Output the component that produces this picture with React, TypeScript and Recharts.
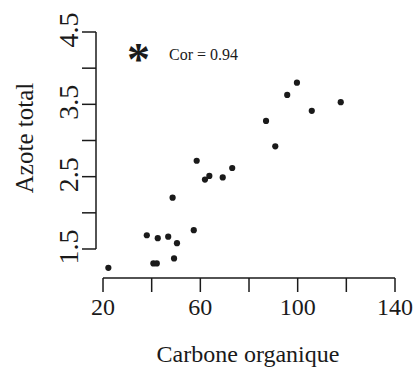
import React from "react";
import { ScatterChart, Scatter, XAxis, YAxis, ReferenceLine } from "recharts";

const carbone = [22.2, 38.0, 40.7, 42.1, 42.5, 46.8, 48.6, 49.2, 50.4, 57.3, 58.5, 61.9, 63.7, 69.2, 73.1, 87.0, 90.8, 95.7, 99.7, 105.8, 117.7];
const azote = [1.24, 1.69, 1.3, 1.3, 1.65, 1.67, 2.21, 1.37, 1.58, 1.76, 2.72, 2.46, 2.51, 2.49, 2.62, 3.27, 2.92, 3.63, 3.8, 3.41, 3.53];
const xTicks = [20, 40, 60, 80, 100, 120, 140];
const xLabelled = [20, 60, 100, 140];
const yTicks = [1.5, 2, 2.5, 3, 3.5, 4, 4.5];
const yLabelled = [1.5, 2.5, 3.5, 4.5];
const xDomain = [17.12, 140];
const yDomain = [1.099, 4.5];
const corText = "Cor = 0.94";

const data = carbone.map((c, i) => ({ x: c, y: azote[i] }));

const FONT = "'Liberation Serif', 'Times New Roman', serif";
const INK = "#1a1a1a";

const XTick = (props: any) => {
  const { x, y, payload } = props;
  if (!xLabelled.includes(payload.value)) return <g />;
  return (
    <text x={x} y={y} dy={21} textAnchor="middle" fontFamily={FONT} fontSize={24} fill={INK}>
      {payload.value}
    </text>
  );
};

const YTick = (props: any) => {
  const { x, y, payload } = props;
  if (!yLabelled.includes(payload.value)) return <g />;
  const bx = x - 2;
  const cy = y - 2;
  return (
    <text
      x={bx}
      y={cy}
      textAnchor="middle"
      fontFamily={FONT}
      fontSize={28}
      fill={INK}
      transform={`rotate(-90, ${bx}, ${cy})`}
    >
      {payload.value.toFixed(1)}
    </text>
  );
};

const Dot = (props: any) => <circle cx={props.cx} cy={props.cy} r={3.1} fill={INK} />;

export default function App() {
  return (
    <div style={{ position: "absolute", left: 0, top: 0, width: 413, height: 369, background: "#fff" }}>
      <ScatterChart width={413} height={369} margin={{ top: 32, right: 18, left: 0, bottom: 0 }}>
        <XAxis
          type="number"
          dataKey="x"
          domain={xDomain}
          ticks={xTicks}
          allowDataOverflow
          axisLine={false}
          tickLine={{ stroke: INK, strokeWidth: 1.5 }}
          tickSize={14}
          tickMargin={2}
          height={91}
          tick={<XTick />}
          interval={0}
        />
        <YAxis
          type="number"
          dataKey="y"
          domain={yDomain}
          ticks={yTicks}
          allowDataOverflow
          axisLine={false}
          tickLine={{ stroke: INK, strokeWidth: 1.5 }}
          tickSize={14}
          tickMargin={2}
          width={96}
          tick={<YTick />}
          interval={0}
        />
        <ReferenceLine
          segment={[{ x: xTicks[0], y: yDomain[0] }, { x: xTicks[xTicks.length - 1], y: yDomain[0] }]}
          stroke={INK}
          strokeWidth={1.5}
          ifOverflow="visible"
        />
        <ReferenceLine
          segment={[{ x: xDomain[0], y: yTicks[0] }, { x: xDomain[0], y: yTicks[yTicks.length - 1] }]}
          stroke={INK}
          strokeWidth={1.5}
          ifOverflow="visible"
        />
        <Scatter data={data} shape={<Dot />} isAnimationActive={false} />
      </ScatterChart>
      <svg width={413} height={369} style={{ position: "absolute", left: 0, top: 0, pointerEvents: "none" }}>
        <text x={248} y={362} textAnchor="middle" fontFamily={FONT} fontSize={24} fill={INK}>
          Carbone organique
        </text>
        <text
          x={33}
          y={138}
          textAnchor="middle"
          fontFamily={FONT}
          fontSize={25}
          fill={INK}
          transform="rotate(-90, 33, 138)"
        >
          Azote total
        </text>
        <text x={138.5} y={75} textAnchor="middle" fontFamily={FONT} fontSize={46} fontWeight="bold" fill={INK}>
          *
        </text>
        <text x={169} y={60} fontFamily={FONT} fontSize={16} fill={INK}>
          {corText}
        </text>
      </svg>
    </div>
  );
}
